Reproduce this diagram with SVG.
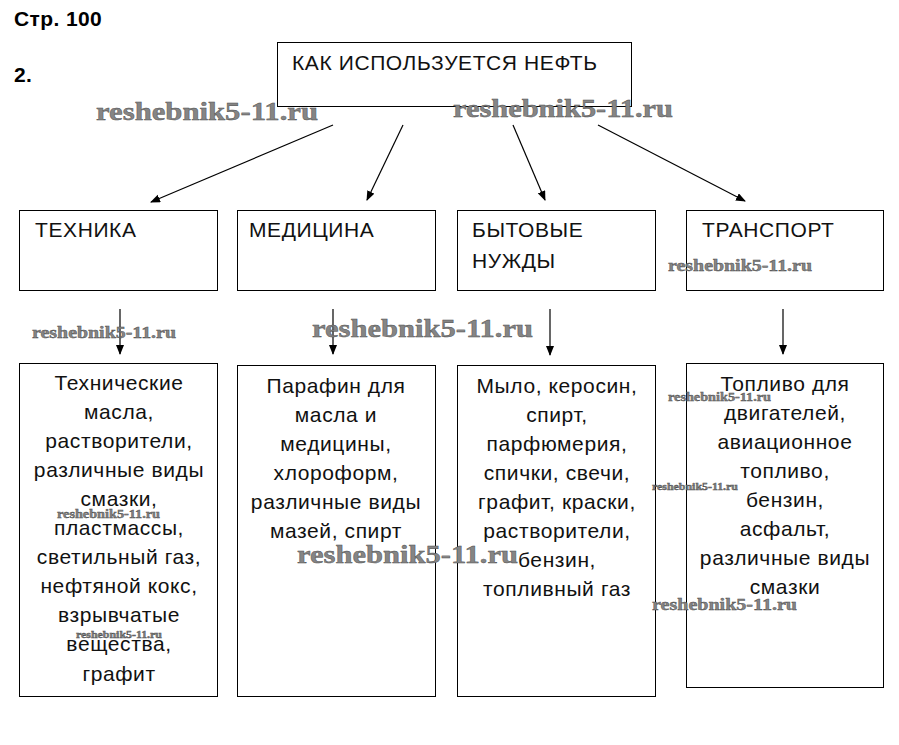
<svg xmlns="http://www.w3.org/2000/svg" width="899" height="745" viewBox="0 0 899 745">
<defs>
<marker id="ah" markerWidth="10" markerHeight="10" refX="9" refY="4" orient="auto" markerUnits="userSpaceOnUse">
<path d="M0,0 L10,4 L0,8 Z" fill="#000"/>
</marker>
<style>
.box{fill:#fff;stroke:#000;stroke-width:1}
.t{font-family:"Liberation Sans",Arial,sans-serif;font-size:21px;letter-spacing:0.6px;fill:#111}
.c{text-anchor:middle}
.h{font-family:"Liberation Sans",Arial,sans-serif;font-size:21px;letter-spacing:0.4px;font-weight:bold;fill:#000}
.ln{stroke:#000;stroke-width:1.2;fill:none;marker-end:url(#ah)}
.wm{font-family:"Liberation Serif","Times New Roman",serif;font-weight:bold;fill:#858585;stroke:#4a4a4a;stroke-width:0.4}
</style>
</defs>
<rect width="899" height="745" fill="#fff"/>
<text class="h" x="14" y="26">Стр. 100</text>
<text class="h" x="14" y="82">2.</text>

<g id="root">
<rect class="box" x="277.5" y="42.5" width="354" height="64"/>
<text class="t" x="292" y="70">КАК ИСПОЛЬЗУЕТСЯ НЕФТЬ</text>
</g>

<g id="connectors">
<line class="ln" x1="333" y1="125" x2="151" y2="202"/>
<line class="ln" x1="403" y1="125" x2="367" y2="200"/>
<line class="ln" x1="513" y1="125" x2="545" y2="200"/>
<line class="ln" x1="598" y1="125" x2="745" y2="201"/>
<line class="ln" x1="120" y1="309" x2="120" y2="354"/>
<line class="ln" x1="333" y1="309" x2="333" y2="354"/>
<line class="ln" x1="550" y1="309" x2="550" y2="355"/>
<line class="ln" x1="783" y1="309" x2="783" y2="354"/>
</g>

<g id="tehnika">
<rect class="box" x="19.5" y="210.5" width="198" height="80"/>
<text class="t" x="35" y="237">ТЕХНИКА</text>
</g>
<g id="medicina">
<rect class="box" x="237.5" y="210.5" width="198" height="80"/>
<text class="t" x="249" y="237">МЕДИЦИНА</text>
</g>
<g id="bytovye">
<rect class="box" x="457.5" y="210.5" width="198" height="80"/>
<text class="t" x="472" y="237">БЫТОВЫЕ</text>
<text class="t" x="472" y="268">НУЖДЫ</text>
</g>
<g id="transport">
<rect class="box" x="686.5" y="210.5" width="197" height="80"/>
<text class="t" x="702" y="237">ТРАНСПОРТ</text>
</g>

<g id="tehnika-list">
<rect class="box" x="19.5" y="363.5" width="198" height="333"/>
<text class="t c" x="119" y="390">Технические</text>
<text class="t c" x="119" y="419">масла,</text>
<text class="t c" x="119" y="448">растворители,</text>
<text class="t c" x="119" y="477">различные виды</text>
<text class="t c" x="119" y="506">смазки,</text>
<text class="t c" x="119" y="535">пластмассы,</text>
<text class="t c" x="119" y="564">светильный газ,</text>
<text class="t c" x="119" y="593">нефтяной кокс,</text>
<text class="t c" x="119" y="622">взрывчатые</text>
<text class="t c" x="119" y="651">вещества,</text>
<text class="t c" x="119" y="681">графит</text>
</g>
<g id="medicina-list">
<rect class="box" x="237.5" y="365.5" width="198" height="331"/>
<text class="t c" x="336" y="393">Парафин для</text>
<text class="t c" x="336" y="422">масла и</text>
<text class="t c" x="336" y="451">медицины,</text>
<text class="t c" x="336" y="480">хлороформ,</text>
<text class="t c" x="336" y="509">различные виды</text>
<text class="t c" x="336" y="538">мазей, спирт</text>
</g>
<g id="bytovye-list">
<rect class="box" x="457.5" y="365.5" width="198" height="331"/>
<text class="t c" x="557" y="393">Мыло, керосин,</text>
<text class="t c" x="557" y="422">спирт,</text>
<text class="t c" x="557" y="451">парфюмерия,</text>
<text class="t c" x="557" y="480">спички, свечи,</text>
<text class="t c" x="557" y="509">графит, краски,</text>
<text class="t c" x="557" y="538">растворители,</text>
<text class="t c" x="557" y="567">бензин,</text>
<text class="t c" x="557" y="596">топливный газ</text>
</g>
<g id="transport-list">
<rect class="box" x="686.5" y="363.5" width="197" height="324"/>
<text class="t c" x="785" y="391">Топливо для</text>
<text class="t c" x="785" y="420">двигателей,</text>
<text class="t c" x="785" y="449">авиационное</text>
<text class="t c" x="785" y="478">топливо,</text>
<text class="t c" x="785" y="507">бензин,</text>
<text class="t c" x="785" y="536">асфальт,</text>
<text class="t c" x="785" y="565">различные виды</text>
<text class="t c" x="785" y="594">смазки</text>
</g>

<g id="watermarks">
<text class="wm" x="96" y="120" font-size="25" textLength="222" lengthAdjust="spacingAndGlyphs">reshebnik5-11.ru</text>
<text class="wm" x="453" y="117" font-size="25" textLength="220" lengthAdjust="spacingAndGlyphs">reshebnik5-11.ru</text>
<text class="wm" x="668" y="271" font-size="16" textLength="144" lengthAdjust="spacingAndGlyphs">reshebnik5-11.ru</text>
<text class="wm" x="32" y="338" font-size="16" textLength="144" lengthAdjust="spacingAndGlyphs">reshebnik5-11.ru</text>
<text class="wm" x="312" y="337" font-size="25" textLength="221" lengthAdjust="spacingAndGlyphs">reshebnik5-11.ru</text>
<text class="wm" x="297" y="563" font-size="25" textLength="221" lengthAdjust="spacingAndGlyphs">reshebnik5-11.ru</text>
<text class="wm" x="57" y="518" font-size="12" textLength="103" lengthAdjust="spacingAndGlyphs">reshebnik5-11.ru</text>
<text class="wm" x="76" y="638" font-size="10" textLength="86" lengthAdjust="spacingAndGlyphs">reshebnik5-11.ru</text>
<text class="wm" x="668" y="401" font-size="12" textLength="103" lengthAdjust="spacingAndGlyphs">reshebnik5-11.ru</text>
<text class="wm" x="652" y="490" font-size="10" textLength="86" lengthAdjust="spacingAndGlyphs">reshebnik5-11.ru</text>
<text class="wm" x="652" y="610" font-size="16" textLength="145" lengthAdjust="spacingAndGlyphs">reshebnik5-11.ru</text>
</g>
</svg>
